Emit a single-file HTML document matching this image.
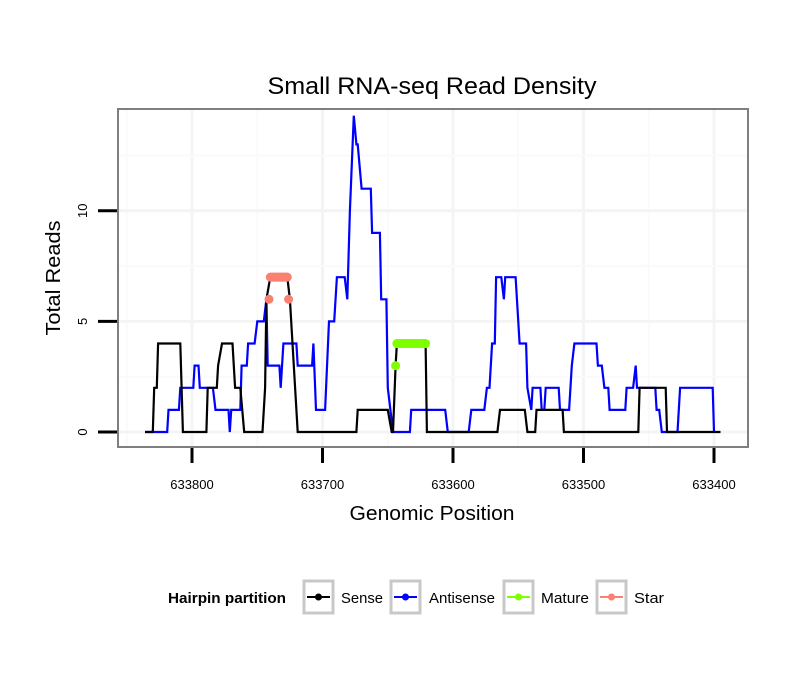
<!DOCTYPE html>
<html><head><meta charset="utf-8"><style>
body{margin:0;background:#fff;}
svg text{font-family:"Liberation Sans",sans-serif;}
</style></head><body>
<svg id="chart" width="810" height="690" xmlns="http://www.w3.org/2000/svg">
<text x="432" y="94" font-size="24" text-anchor="middle" textLength="329" lengthAdjust="spacingAndGlyphs">Small RNA-seq Read Density</text>
<g id="grid"></g>
<g id="marks"></g>
<rect x="118" y="109" width="630" height="338" fill="none" stroke="#7f7f7f" stroke-width="2"/>
<g id="axes"></g>
<text x="432" y="520" font-size="20" text-anchor="middle" textLength="165" lengthAdjust="spacingAndGlyphs">Genomic Position</text>
<text transform="translate(60,278) rotate(-90)" font-size="20" text-anchor="middle" textLength="115" lengthAdjust="spacingAndGlyphs">Total Reads</text>
<g>
<text x="168" y="603" font-size="15" font-weight="bold" textLength="118" lengthAdjust="spacingAndGlyphs">Hairpin partition</text>
<g><rect x="304" y="581" width="29" height="32" fill="#fff" stroke="#c8c8c8" stroke-width="3"/><line x1="307" y1="597" x2="330" y2="597" stroke="#000" stroke-width="2"/><circle cx="318.5" cy="597" r="3.5" fill="#000"/><text x="341" y="603" font-size="15" textLength="42" lengthAdjust="spacingAndGlyphs">Sense</text></g>
<g><rect x="391" y="581" width="29" height="32" fill="#fff" stroke="#c8c8c8" stroke-width="3"/><line x1="394" y1="597" x2="417" y2="597" stroke="#0000ff" stroke-width="2"/><circle cx="405.5" cy="597" r="3.5" fill="#0000ff"/><text x="429" y="603" font-size="15" textLength="66" lengthAdjust="spacingAndGlyphs">Antisense</text></g>
<g><rect x="504" y="581" width="29" height="32" fill="#fff" stroke="#c8c8c8" stroke-width="3"/><line x1="507" y1="597" x2="530" y2="597" stroke="#7fff00" stroke-width="2"/><circle cx="518.5" cy="597" r="3.5" fill="#7fff00"/><text x="541" y="603" font-size="15" textLength="48" lengthAdjust="spacingAndGlyphs">Mature</text></g>
<g><rect x="597" y="581" width="29" height="32" fill="#fff" stroke="#c8c8c8" stroke-width="3"/><line x1="600" y1="597" x2="623" y2="597" stroke="#fa8072" stroke-width="2"/><circle cx="611.5" cy="597" r="3.5" fill="#fa8072"/><text x="634" y="603" font-size="15" textLength="30" lengthAdjust="spacingAndGlyphs">Star</text></g>
</g>
</svg>
<script>
const xTicks=[633800,633700,633600,633500,633400];
const xTickLabels=["633800","633700","633600","633500","633400"];
const yTicks=[0,5,10];
const yTickLabels=["0","5","10"];
const sensePos=[633836,633830,633829,633827,633826,633809,633807,633789,633788,633781,633780,633777,633769,633767,633763,633760,633746,633744,633743,633740,633727,633725,633722,633719,633674,633673,633650,633647,633646,633644,633643,633621,633620,633566,633564,633545,633543,633537,633536,633516,633515,633458,633457,633437,633436,633395];
const senseVal=[0,0,2,2,4,4,0,0,2,2,3,4,4,2,2,0,0,2,6,7,7,6,3,0,0,1,1,0,0,3,4,4,0,0,1,1,0,0,1,1,0,0,2,2,0,0];
const antiPos=[633836,633819,633818,633810,633809,633799,633798,633795,633794,633784,633782,633772,633771,633770,633763,633762,633758,633757,633752,633750,633745,633743,633742,633733,633732,633730,633720,633719,633708,633707,633705,633698,633695,633691,633689,633683,633681,633680,633679,633676,633674,633673,633670,633663,633662,633656,633655,633651,633650,633646,633633,633632,633606,633604,633588,633586,633576,633574,633572,633570,633568,633567,633563,633561,633560,633552,633549,633544,633543,633540,633539,633533,633532,633530,633529,633519,633518,633511,633509,633507,633505,633490,633489,633486,633484,633481,633480,633468,633467,633462,633460,633459,633445,633444,633442,633440,633428,633426,633401,633400];
const antiVal=[0,0,1,1,2,2,3,3,2,2,1,1,0,1,1,3,3,4,4,5,5,6,3,3,2,4,4,3,3,4,1,1,5,5,7,7,6,8,10,14.3,13,13,11,11,9,9,6,6,2,0,0,1,1,0,0,1,1,2,2,4,4,7,7,6,7,7,4,4,2,1,2,2,1,1,2,2,1,1,3,4,4,4,3,3,2,2,1,1,2,2,3,2,2,1,1,0,0,2,2,0];
const starPos=[633741,633740,633737,633734,633731,633728,633727,633726];
const starVal=[6,7,7,7,7,7,7,6];
const maturePos=[633644,633643,633640,633637,633634,633631,633628,633625,633622,633621];
const matureVal=[3,4,4,4,4,4,4,4,4,4];

const NS="http://www.w3.org/2000/svg";
const xs=g=>192+(633800-g)*1.305;
const ys=v=>432-v*22.12;
function mk(tag,attrs,parent){const e=document.createElementNS(NS,tag);for(const k in attrs)e.setAttribute(k,attrs[k]);parent.appendChild(e);return e;}
const grid=document.getElementById('grid'),marks=document.getElementById('marks'),axes=document.getElementById('axes');
for(let g=633850;g>=633350;g-=50){const x=xs(g);if(x<119||x>747)continue;const l=mk('line',{x1:x,x2:x,y1:110,y2:446,stroke:g%100===0?'#f4f4f4':'#fafafa','stroke-width':g%100===0?3:2},grid);}
for(let v=0;v<=15;v+=2.5){const y=ys(v);if(y<110||y>446)continue;const l=mk('line',{x1:119,x2:747,y1:y,y2:y,stroke:v%5===0?'#f4f4f4':'#fafafa','stroke-width':v%5===0?3:2},grid);}
xTicks.forEach((t,i)=>{const x=xs(t);
const l=mk('line',{x1:x,x2:x,y1:448,y2:463,stroke:'#000','stroke-width':3},axes);
const tx=mk('text',{x:x,y:489,'font-size':13,'text-anchor':'middle'},axes);tx.textContent=xTickLabels[i];});
yTicks.forEach((t,i)=>{const y=ys(t);
const l=mk('line',{x1:98,x2:117,y1:y,y2:y,stroke:'#000','stroke-width':3},axes);
const tx=mk('text',{transform:`translate(87,${y}) rotate(-90)`,'font-size':13,'text-anchor':'middle'},axes);tx.textContent=yTickLabels[i];});
function line(pos,val,color,name){const d=pos.map((p,i)=>(i?'L':'M')+xs(p).toFixed(1)+','+ys(val[i]).toFixed(1)).join('');const p=mk('path',{d:d,fill:'none',stroke:color,'stroke-width':2.2},marks);}
line(antiPos,antiVal,'#0000ff','antisense-line');
line(sensePos,senseVal,'#000','sense-line');
function seg(pos,val,color,name){
pos.forEach((p,i)=>{const c=mk('circle',{cx:xs(p),cy:ys(val[i]),r:4.5,fill:color},marks);
if(i>0&&val[i]===val[i-1]){const l=mk('line',{x1:xs(pos[i-1]),x2:xs(p),y1:ys(val[i]),y2:ys(val[i]),stroke:color,'stroke-width':9},marks);}});}
seg(starPos,starVal,'#fa8072','star');
seg(maturePos,matureVal,'#7fff00','mature');
</script>
</body></html>
